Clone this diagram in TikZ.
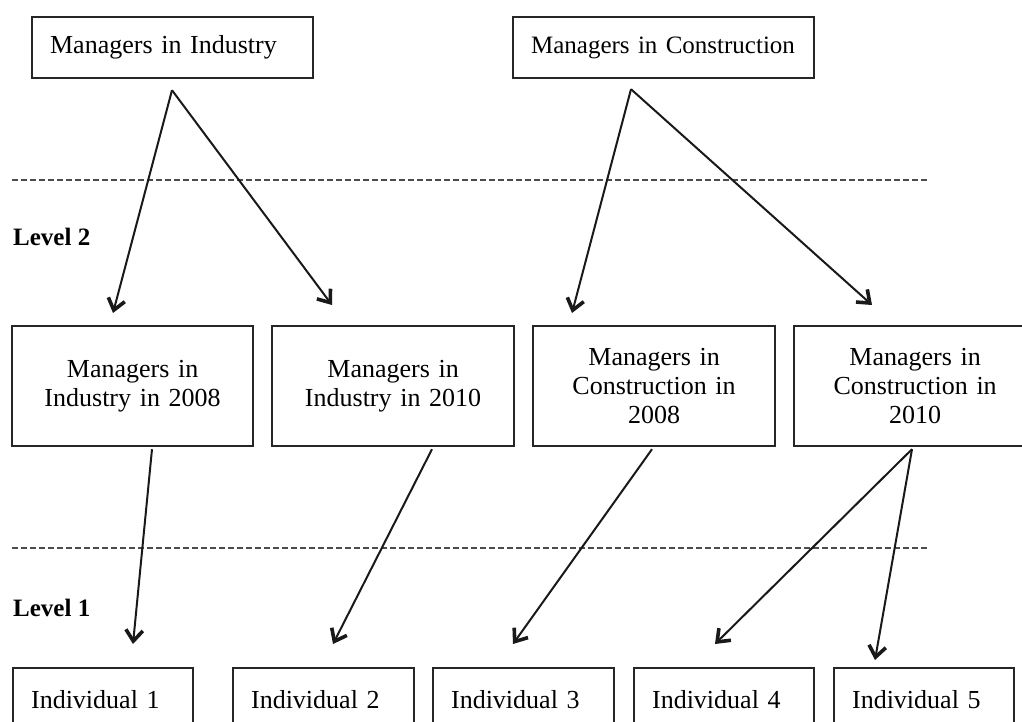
\documentclass[tikz,border=0pt]{standalone}
\usepackage{fontspec}
\setmainfont{Liberation Serif}
\usetikzlibrary{arrows.meta,calc}

\tikzset{
  box/.style={draw=black!85, line width=2.2pt, fill=white, anchor=north west,
    inner ysep=0pt, inner xsep=18pt, font=\fontsize{26}{29}\selectfont},
  leftbox/.style={box, align=left},
  midbox/.style={box, align=center, inner xsep=4pt},
  level/.style={anchor=base west, inner sep=0pt, font=\fontsize{25}{29}\selectfont\bfseries},
  divider/.style={draw=black!70, line width=2pt, dash pattern=on 6pt off 3pt},
  link/.style={draw=black!90, line width=2pt,
    -{Straight Barb[length=11pt,width=17pt,line width=3.6pt]}},
}

\begin{document}
\begin{tikzpicture}[x=1pt,y=-1pt]
\useasboundingbox (0,0) rectangle (1022,722);
\clip (0,0) rectangle (1022,722);

% level dividers
\draw[divider] (12,180) -- (927,180);
\draw[divider] (12,548) -- (927,548);
\node[level] (lv2) at (13,245) {Level 2};
\node[level] (lv1) at (13,616) {Level 1};

% top level: sectors
\node[leftbox, minimum width=281pt, minimum height=61pt, text width=245pt] (mi) at (31,16)
  {Managers in Industry};
\node[leftbox, minimum width=301pt, minimum height=61pt, text width=265pt,
      font=\fontsize{25}{29}\selectfont] (mc) at (512,16)
  {Managers in Construction};

% level 2: sector by year
\node[midbox, minimum width=241pt, minimum height=120pt, text width=233pt] (i08) at (11,325)
  {Managers in\\Industry in 2008};
\node[midbox, minimum width=242pt, minimum height=120pt, text width=234pt] (i10) at (271,325)
  {Managers in\\Industry in 2010};
\node[midbox, minimum width=242pt, minimum height=120pt, text width=234pt] (c08) at (532,325)
  {Managers in\\Construction in\\2008};
\node[midbox, minimum width=242pt, minimum height=120pt, text width=234pt] (c10) at (793,325)
  {Managers in\\Construction in\\2010};

% level 1: individuals
\node[leftbox, minimum width=180pt, minimum height=62pt, text width=144pt] (p1) at (12,667) {Individual 1};
\node[leftbox, minimum width=181pt, minimum height=62pt, text width=145pt] (p2) at (232,667) {Individual 2};
\node[leftbox, minimum width=181pt, minimum height=62pt, text width=145pt] (p3) at (432,667) {Individual 3};
\node[leftbox, minimum width=180pt, minimum height=62pt, text width=144pt] (p4) at (633,667) {Individual 4};
\node[leftbox, minimum width=180pt, minimum height=62pt, text width=144pt] (p5) at (833,667) {Individual 5};

% connector end points
\coordinate (mi-out) at ($(mi.south west)+(141,11)$);
\coordinate (mc-out) at ($(mc.south west)+(119,10)$);
\coordinate (i08-in) at ($(i08.north west)+(102,-12)$);
\coordinate (i10-in) at ($(i10.north west)+(61,-20)$);
\coordinate (c08-in) at ($(c08.north west)+(40,-12)$);
\coordinate (c10-in) at ($(c10.north west)+(79,-20)$);
\coordinate (i08-out) at ($(i08.south west)+(141,2)$);
\coordinate (i10-out) at ($(i10.south west)+(161,2)$);
\coordinate (c08-out) at ($(c08.south west)+(120,2)$);
\coordinate (c10-out) at ($(c10.south west)+(119,2)$);
\coordinate (p1-in) at ($(p1.north west)+(121,-23)$);
\coordinate (p2-in) at ($(p2.north west)+(101,-23)$);
\coordinate (p3-in) at ($(p3.north west)+(81,-23)$);
\coordinate (p4-in) at ($(p4.north west)+(82,-23)$);
\coordinate (p5-in) at ($(p5.north west)+(42,-7)$);

% connectors
\draw[link] (mi-out) -- (i08-in);
\draw[link] (mi-out) -- (i10-in);
\draw[link] (mc-out) -- (c08-in);
\draw[link] (mc-out) -- (c10-in);
\draw[link] (i08-out) -- (p1-in);
\draw[link] (i10-out) -- (p2-in);
\draw[link] (c08-out) -- (p3-in);
\draw[link] (c10-out) -- (p4-in);
\draw[link] (c10-out) -- (p5-in);
\end{tikzpicture}
\end{document}
